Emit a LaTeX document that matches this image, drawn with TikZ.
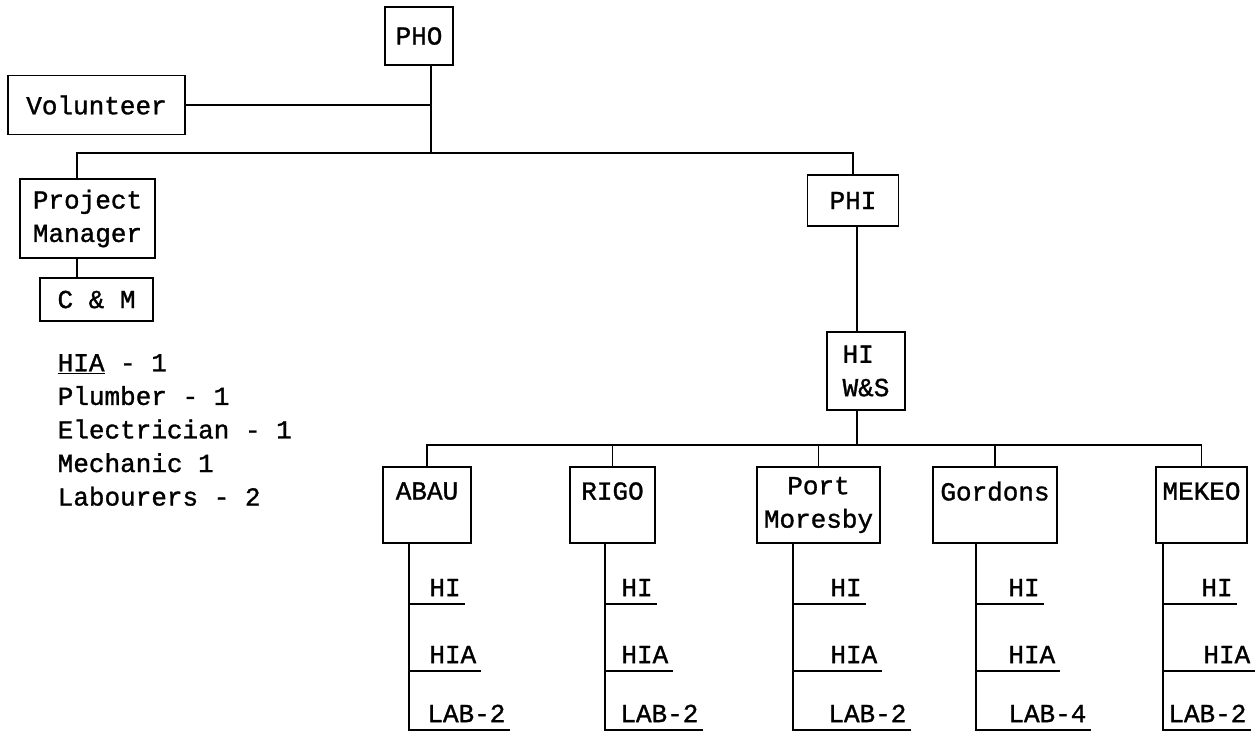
\documentclass[tikz,border=0pt]{standalone}
\usepackage{fontspec}
\newfontfamily\typewr[FakeBold=1.2]{Liberation Mono}
\tikzset{
  box/.style={rectangle,draw=black,inner sep=0pt,align=center,
    font=\typewr\fontsize{14.8}{19}\selectfont},
  item/.style={rectangle,inner xsep=2pt,inner ysep=4pt,text depth=0pt,anchor=south west,
    font=\typewr\fontsize{14.8}{19}\selectfont},
  note/.style={anchor=west,align=left,font=\typewr\fontsize{14.8}{19.1}\selectfont}
}
\begin{document}
\begin{tikzpicture}[x=0.02cm,y=-0.02cm,line width=1pt]
  \useasboundingbox (0,0) rectangle (1259,735);

  \node[box,minimum width=1.36cm,minimum height=1.16cm] (pho) at (419,36) {PHO};
  \node[box,minimum width=3.54cm,minimum height=1.18cm] (vol) at (96.5,105) {Volunteer};
  \node[box,minimum width=2.7cm,minimum height=1.58cm] (pm) at (87.5,218.5) {Project\\Manager};
  \node[box,minimum width=2.26cm,minimum height=0.86cm] (cm) at (96.5,299.5) {C \& M};
  \node[note] (staff) at (51,430) {\underline{HIA} - 1\\Plumber - 1\\Electrician - 1\\Mechanic 1\\Labourers - 2};
  \node[box,minimum width=1.82cm,minimum height=1.02cm] (phi) at (853,200.5) {PHI};
  \node[box,minimum width=1.56cm,minimum height=1.56cm,align=left] (hiws) at (866,371) {HI\\W\&S};

  \node[box,minimum width=1.76cm,minimum height=1.52cm] (abau) at (427,505) {ABAU\\[-3pt]\phantom{X}};
  \node[box,minimum width=1.7cm,minimum height=1.52cm] (rigo) at (612.5,505) {RIGO\\[-3pt]\phantom{X}};
  \node[box,minimum width=2.46cm,minimum height=1.52cm] (port) at (818.5,505) {Port\\Moresby};
  \node[box,minimum width=2.48cm,minimum height=1.52cm] (gordons) at (995,505) {Gordons\\[-3pt]\phantom{X}};
  \node[box,minimum width=1.82cm,minimum height=1.52cm] (mekeo) at (1201.5,505) {MEKEO\\[-3pt]\phantom{X}};

  \coordinate (pmdrop) at (77,153);
  \coordinate (bus1) at (431,153);
  \coordinate (bus2) at (857,445);

  \draw (pho.south -| bus1) -- (bus1);
  \draw (vol.east) -- (vol.east -| bus1);
  \draw (pm.north -| pmdrop) -- (pmdrop) -| (phi.north);
  \draw (pm.south -| pmdrop) -- (cm.north -| pmdrop);
  \draw (phi.south -| bus2) -- (hiws.north -| bus2);
  \draw (hiws.south -| bus2) -- (bus2);
  \draw (abau.north) |- (bus2) -| (mekeo.north);
  \draw (rigo.north) -- (rigo.north |- bus2);
  \draw (port.north) -- (port.north |- bus2);
  \draw (gordons.north) -- (gordons.north |- bus2);

  \node[item] (abau1) at (425,604) {HI};
  \node[item] (abau2) at (425,671) {HIA};
  \node[item] (abau3) at (423,730) {LAB-2};
  \draw (abau.south -| 409,0) |- (abau3.south east)
        (abau1.south east) -- (abau1.south -| 409,0)
        (abau2.south east) -- (abau2.south -| 409,0);

  \node[item] (rigo1) at (617,604) {HI};
  \node[item] (rigo2) at (617,671) {HIA};
  \node[item] (rigo3) at (616,730) {LAB-2};
  \draw (rigo.south -| 605,0) |- (rigo3.south east)
        (rigo1.south east) -- (rigo1.south -| 605,0)
        (rigo2.south east) -- (rigo2.south -| 605,0);

  \node[item] (port1) at (826,604) {HI};
  \node[item] (port2) at (826,671) {HIA};
  \node[item] (port3) at (824,730) {LAB-2};
  \draw (port.south -| 793,0) |- (port3.south east)
        (port1.south east) -- (port1.south -| 793,0)
        (port2.south east) -- (port2.south -| 793,0);

  \node[item] (gordons1) at (1004,604) {HI};
  \node[item] (gordons2) at (1004,671) {HIA};
  \node[item] (gordons3) at (1004,730) {LAB-4};
  \draw (gordons.south -| 976,0) |- (gordons3.south east)
        (gordons1.south east) -- (gordons1.south -| 976,0)
        (gordons2.south east) -- (gordons2.south -| 976,0);

  \node[item] (mekeo1) at (1197,604) {HI};
  \node[item] (mekeo2) at (1199,671) {HIA};
  \node[item] (mekeo3) at (1164,730) {LAB-2};
  \draw (mekeo.south -| 1163,0) |- (mekeo3.south east)
        (mekeo1.south east) -- (mekeo1.south -| 1163,0)
        (mekeo2.south east) -- (mekeo2.south -| 1163,0);
\end{tikzpicture}
\end{document}
